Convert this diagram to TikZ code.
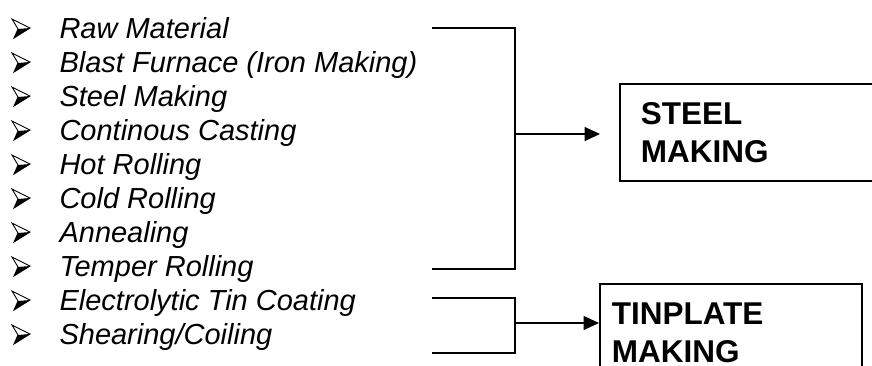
\documentclass[tikz,border=0pt]{standalone}
\usepackage{fontspec}
\setmainfont{Liberation Sans}
\usetikzlibrary{arrows.meta,positioning}
\definecolor{lineBlack}{RGB}{0,0,0}

\begin{document}
\begin{tikzpicture}[x=1pt,y=-1pt,
    link/.style={lineBlack, line width=1.6pt},
    flow/.style={link, -{Triangle[length=15.5pt,width=14pt]}},
    stage/.style={draw=lineBlack, line width=1.6pt, anchor=north west, align=left,
        font=\fontsize{31.5}{38}\selectfont\bfseries},
    item/.style={anchor=base west, font=\fontsize{29}{34}\selectfont\itshape},
    pics/arrowbullet/.style={code={
        \draw[lineBlack, line width=0.9pt, line join=miter] (0,-9) -- (18,0) -- (2,10) -- (6,1) -- cycle;
        \fill[lineBlack] (6,1) -- (18,0) -- (2,10) -- cycle;}}]
    \useasboundingbox (0,0) rectangle (872,365);
    \clip (0,0) rectangle (872,365);
    % process list
    \foreach \txt [count=\i] in {Raw Material, Blast Furnace (Iron Making), Steel Making,
        Continous Casting, Hot Rolling, Cold Rolling, Annealing, Temper Rolling,
        Electrolytic Tin Coating, Shearing/Coiling}
    {
        \pic at (12,{28+34*(\i-1)}) {arrowbullet};
        \node[item] (item\i) at (56,{38+34*(\i-1)}) {\txt};
    }
    % result boxes
    \node[stage, minimum height=97pt, inner xsep=21pt, text width=220pt] (steel) at (619,83) {STEEL\\MAKING};
    \node[stage, inner xsep=12pt, inner ysep=19pt, text width=238pt] (tin) at (599,283) {TINPLATE\\MAKING};
    % steel bracket
    \coordinate (sTop) at (432,28);
    \coordinate (sBot) at (432,269);
    \coordinate (sJoin) at (515,134);
    \draw[link] (sTop) -| (sJoin) |- (sBot);
    \draw[flow, shorten >=19pt] (sJoin) -- (sJoin -| steel.west);
    % tinplate bracket
    \coordinate (tTop) at (432,298);
    \coordinate (tBot) at (432,353);
    \coordinate (tJoin) at (515,323);
    \draw[link] (tTop) -| (tJoin) |- (tBot);
    \draw[flow] (tJoin) -- (tJoin -| tin.west);
\end{tikzpicture}
\end{document}
